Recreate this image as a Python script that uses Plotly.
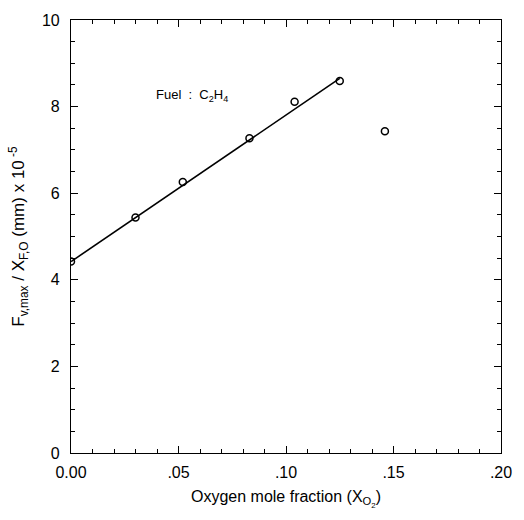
import plotly.graph_objects as go

# Measured points: oxygen mole fraction vs normalized soot volume fraction
x_o2 = [0.0, 0.030, 0.052, 0.083, 0.104, 0.125, 0.146]
f_ratio = [4.42, 5.44, 6.26, 7.27, 8.11, 8.59, 7.43]

# Linear fit over the rising branch (endpoints)
fit_x = [0.0, 0.125]
fit_y = [4.42, 8.65]

x_tickvals = [0.0, 0.05, 0.10, 0.15, 0.20]
x_ticktext = ["0.00", ".05", ".10", ".15", ".20"]
y_tickvals = [0, 2, 4, 6, 8, 10]

font_family = "Liberation Sans, Arial, sans-serif"

fig = go.Figure()
fig.add_trace(go.Scatter(
    x=fit_x, y=fit_y, mode="lines",
    line=dict(color="black", width=1.6),
    showlegend=False, hoverinfo="skip",
))
fig.add_trace(go.Scatter(
    x=x_o2, y=f_ratio, mode="markers",
    marker=dict(symbol="circle-open", size=7, color="black",
                line=dict(color="black", width=1.5)),
    showlegend=False,
))

fig.add_annotation(
    x=0.0385, y=8.25, xref="x", yref="y",
    text="Fuel  :  C<sub>2</sub>H<sub>4</sub>",
    showarrow=False, xanchor="left", yanchor="middle",
    font=dict(family=font_family, size=13, color="black"),
)

axis_common = dict(
    showline=True, linecolor="black", linewidth=1.2,
    mirror="ticks", ticks="inside", tickcolor="black",
    ticklen=7, tickwidth=1.2, showgrid=False, zeroline=False,
    tickfont=dict(family=font_family, size=16, color="black"),
)

fig.update_xaxes(
    range=[0, 0.2], tickvals=x_tickvals, ticktext=x_ticktext,
    ticklabelstandoff=5,
    minor=dict(ticks="inside", dtick=0.01, ticklen=4, tickcolor="black", tickwidth=1),
    title=dict(text="Oxygen mole fraction (X<sub>O<sub>2</sub></sub>)",
               font=dict(family=font_family, size=16, color="black"), standoff=10),
    **axis_common,
)
fig.update_yaxes(
    range=[0, 10], tickvals=y_tickvals,
    ticklabelstandoff=7,
    minor=dict(ticks="inside", dtick=0.5, ticklen=4, tickcolor="black", tickwidth=1),
    title=dict(text="F<sub>v,max</sub> / X<sub>F,O</sub> (mm) x 10<sup> -5</sup>",
               font=dict(family=font_family, size=17, color="black"), standoff=12),
    **axis_common,
)

fig.update_layout(
    width=524, height=520,
    margin=dict(l=71, r=14, t=14, b=67),
    paper_bgcolor="white", plot_bgcolor="white",
)

fig.write_html("out.html")
